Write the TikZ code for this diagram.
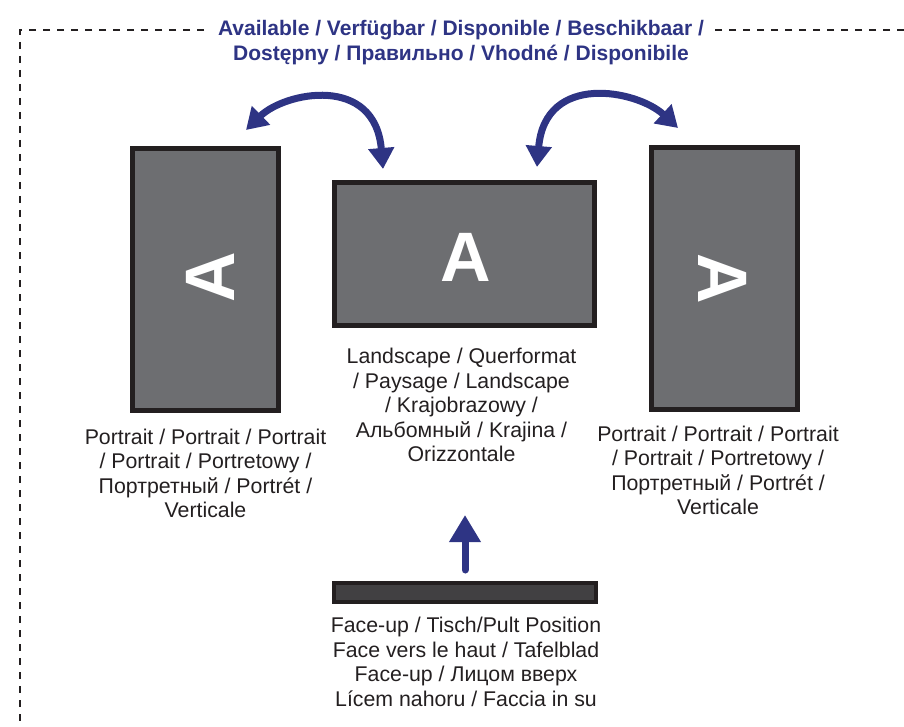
\documentclass[tikz,border=0pt]{standalone}
\usepackage{fontspec}
\setmainfont{Liberation Sans}
\usetikzlibrary{arrows.meta, positioning}
\definecolor{screengray}{HTML}{6D6E71}
\definecolor{framedark}{HTML}{231F20}
\definecolor{bardark}{HTML}{414042}
\definecolor{navy}{HTML}{2E3484}

\begin{document}
\begin{tikzpicture}[x=1pt, y=-1pt,
    every node/.style={font=\fontsize{21.3}{24.5}\selectfont, text=framedark, inner sep=0pt},
    screen/.style={draw=framedark, line width=5pt, fill=screengray},
    caption/.style={align=center},
    letter/.style={text=white, font=\fontsize{70}{70}\selectfont\bfseries},
    heading/.style={align=center, text=navy, fill=white, inner xsep=9pt, inner ysep=3pt,
                    font=\bfseries\fontsize{21}{25}\selectfont},
    turn/.style={{Triangle[width=25pt,length=21pt]}-{Triangle[width=25pt,length=21pt]},
                 navy, line width=7pt},
    lift/.style={-{Triangle[width=30pt,length=27pt]}, navy, line width=7pt, line cap=round}]
  \useasboundingbox (0,0) rectangle (904,727);
  % dashed frame
  \draw[framedark, line width=1.5pt, dash pattern=on 7pt off 7pt] (904,30) -| (20,727);
  \node[heading] (title) at (461,42.5) {Available / Verfügbar / Disponible / Beschikbaar /\\
    Dostępny / Правильно / Vhodné / Disponibile};
  % screens
  \node[screen, minimum width=146pt, minimum height=262pt] (port1) at (205.5,279.5) {};
  \node[screen, minimum width=260pt, minimum height=143pt] (land) at (464.5,254) {};
  \node[screen, minimum width=146pt, minimum height=262pt] (port2) at (724,278.5) {};
  \node[draw=framedark, line width=4pt, fill=bardark, minimum width=262pt,
        minimum height=19pt] (flat) at (465,592.5) {};
  \node[letter, rotate=90] (a1) at (210,277) {A};
  \node[letter] (a2) at (466,257) {A};
  \node[letter, rotate=-90] (a3) at (723,279) {A};
  % captions
  \node[caption, below=15.5pt of port1] (port1txt) {Portrait / Portrait / Portrait\\
    / Portrait / Portretowy /\\Портретный / Portrét /\\Verticale};
  \node[caption, below=20pt of land, xshift=-3pt] (landtxt) {Landscape / Querformat\\
    / Paysage / Landscape\\/ Krajobrazowy /\\Альбомный / Krajina /\\Orizzontale};
  \node[caption, below=13.5pt of port2, xshift=-6pt] (port2txt) {Portrait / Portrait / Portrait\\
    / Portrait / Portretowy /\\Портретный / Portrét /\\Verticale};
  \node[caption, below=13pt of flat, xshift=1pt] (flattxt) {Face-up / Tisch/Pult Position\\
    Face vers le haut / Tafelblad\\Face-up / Лицом вверх\\Lícem nahoru / Faccia in su};
  % arrows
  \coordinate (l1) at (246,130);
  \coordinate (l2) at (383,169);
  \coordinate (r1) at (537,167);
  \coordinate (r2) at (678,128);
  \draw[turn] (l1) .. controls (285,92) and (375,74) .. (l2);
  \draw[turn] (r1) .. controls (545,72) and (637,90) .. (r2);
  \draw[lift] ([yshift=11pt]flat.north) -- ++(0,-55);
\end{tikzpicture}
\end{document}
